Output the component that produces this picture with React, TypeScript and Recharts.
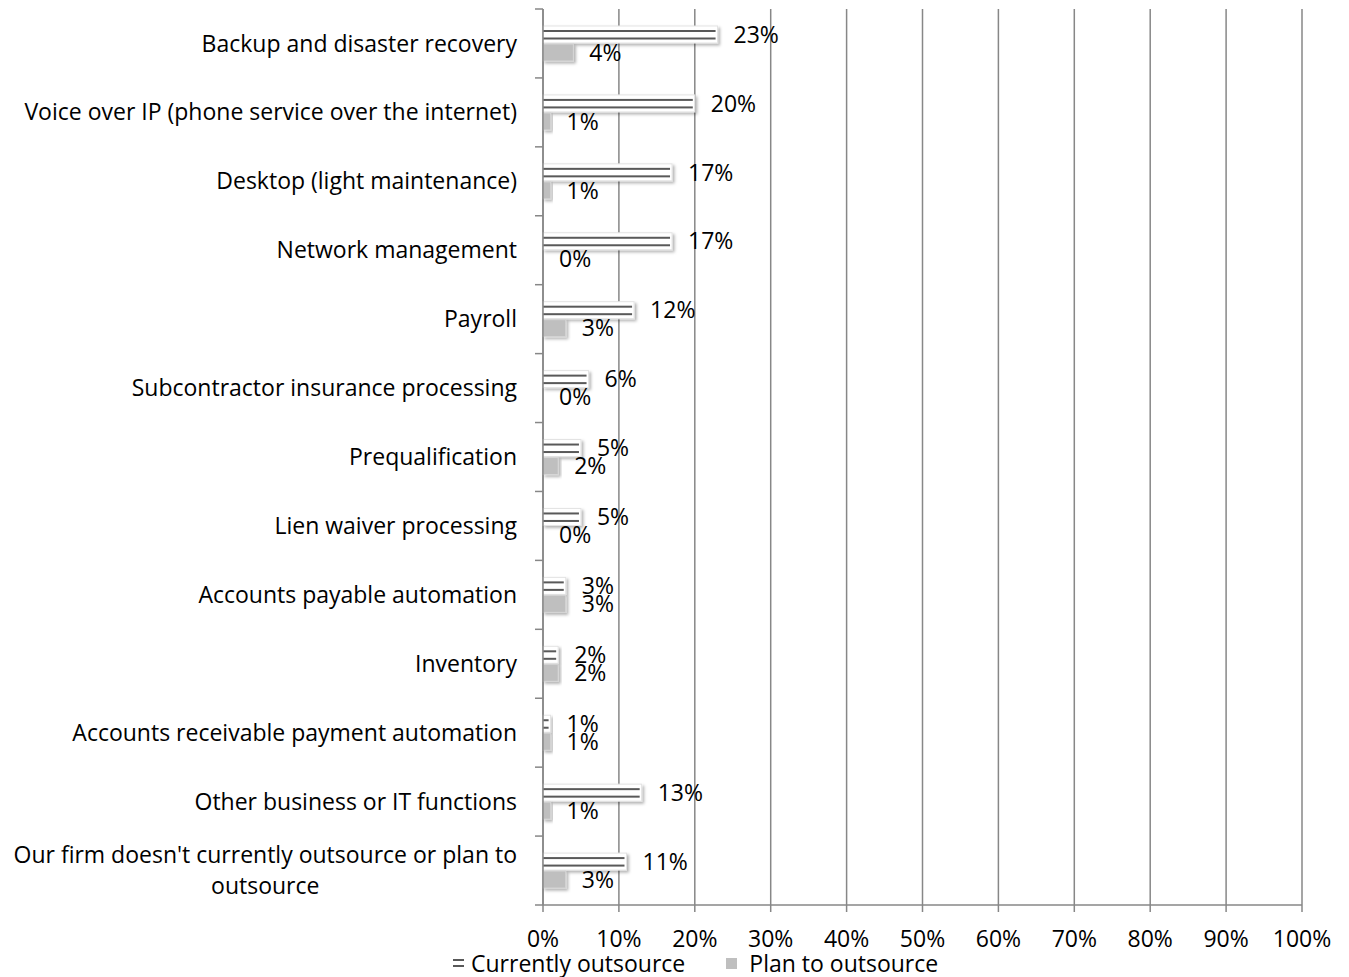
import { BarChart, Bar, XAxis, YAxis, CartesianGrid, Legend, LabelList } from 'recharts';

const categories = [
  'Backup and disaster recovery',
  'Voice over IP (phone service over the internet)',
  'Desktop (light maintenance)',
  'Network management',
  'Payroll',
  'Subcontractor insurance processing',
  'Prequalification',
  'Lien waiver processing',
  'Accounts payable automation',
  'Inventory',
  'Accounts receivable payment automation',
  'Other business or IT functions',
  "Our firm doesn't currently outsource or plan to outsource",
];
const currentlyOutsource = [23, 20, 17, 17, 12, 6, 5, 5, 3, 2, 1, 13, 11];
const planToOutsource = [4, 1, 1, 0, 3, 0, 2, 0, 3, 2, 1, 1, 3];
const xTicks = [0, 10, 20, 30, 40, 50, 60, 70, 80, 90, 100];

const data = categories.map((name, i) => ({
  name,
  current: currentlyOutsource[i],
  plan: planToOutsource[i],
}));

const FONT = '"Open Sans", "Liberation Sans", sans-serif';
const FS = 23;
const GRID = '#878787';
const PLAN = '#bfbfbf';
const STRIPE = '#595959';

let ctx: CanvasRenderingContext2D | null = null;
const measure = (s: string) => {
  if (!ctx) ctx = document.createElement('canvas').getContext('2d');
  if (!ctx) return s.length * FS * 0.5;
  ctx.font = `${FS}px ${FONT}`;
  return ctx.measureText(s).width;
};

const wrap = (text: string, maxW: number) => {
  const words = text.split(' ');
  const lines: string[] = [];
  let cur = '';
  words.forEach((w) => {
    const t = cur ? cur + ' ' + w : w;
    if (cur && measure(t) > maxW) {
      lines.push(cur);
      cur = w;
    } else cur = t;
  });
  if (cur) lines.push(cur);
  return lines;
};

const CategoryTick = (props: any) => {
  const { x, y, payload, index, visibleTicksCount } = props;
  const half = payload && payload.offset ? payload.offset : 34.46;
  const axisRight = x + 26;
  const lines = wrap(payload.value, 508);
  const multi = lines.length > 1;
  const maxW = Math.max(...lines.map(measure));
  const lh = 31;
  return (
    <g>
      <line x1={axisRight - 8} x2={axisRight} y1={y - half} y2={y - half} stroke={GRID} strokeWidth={1.5} />
      {index === visibleTicksCount - 1 && (
        <line x1={axisRight - 8} x2={axisRight} y1={y + half} y2={y + half} stroke={GRID} strokeWidth={1.5} />
      )}
      <text
        x={multi ? x - maxW / 2 : x}
        y={y - ((lines.length - 1) * lh) / 2}
        textAnchor={multi ? 'middle' : 'end'}
        fontFamily={FONT}
        fontSize={FS}
        fill="#000"
      >
        {lines.map((l, i) => (
          <tspan key={i} x={multi ? x - maxW / 2 : x} dy={i === 0 ? '0.35em' : lh}>
            {l}
          </tspan>
        ))}
      </text>
    </g>
  );
};

const StripedBar = (props: any) => {
  const { x, y, width, height } = props;
  if (!width || width <= 0) return null;
  return (
    <g>
      <rect x={x} y={y} width={width} height={height} fill="#fff" stroke="#e3e3e3" strokeWidth={1} filter="url(#barShadow)" />
      <rect x={x} y={y + 4} width={Math.max(width - 2, 0)} height={2} fill={STRIPE} />
      <rect x={x} y={y + 11.5} width={Math.max(width - 2, 0)} height={2} fill={STRIPE} />
    </g>
  );
};

const PlanBar = (props: any) => {
  const { x, y, width, height } = props;
  if (!width || width <= 0) return null;
  return <rect x={x} y={y} width={width} height={height} fill={PLAN} stroke="#d6d6d6" strokeWidth={1} filter="url(#barShadow)" />;
};

const LegendContent = () => (
  <div
    style={{
      display: 'flex',
      alignItems: 'center',
      height: 24,
      lineHeight: '24px',
      fontFamily: FONT,
      fontSize: FS,
      color: '#000',
      whiteSpace: 'nowrap',
    }}
  >
    <svg width={12} height={12} style={{ marginRight: 6 }}>
      <rect x={0} y={2} width={11} height={2} fill={STRIPE} />
      <rect x={0} y={8} width={11} height={2} fill={STRIPE} />
    </svg>
    <span>Currently outsource</span>
    <svg width={11} height={11} style={{ marginLeft: 41, marginRight: 12 }}>
      <rect x={0} y={0} width={11} height={11} fill={PLAN} />
    </svg>
    <span>Plan to outsource</span>
  </div>
);

const App = () => (
  <div style={{ width: 1333, height: 969, background: '#fff' }}>
    <BarChart
      width={1333}
      height={969}
      data={data}
      layout="vertical"
      margin={{ top: 1, right: 39, bottom: 0, left: 0 }}
      barSize={17}
      barGap={1}
    >
      <defs>
        <filter id="barShadow" x="-10%" y="-30%" width="130%" height="180%">
          <feDropShadow dx={2} dy={2} stdDeviation={1.5} floodColor="#000" floodOpacity={0.3} />
        </filter>
      </defs>
      <CartesianGrid horizontal={false} stroke={GRID} strokeWidth={1.5} />
      <XAxis
        type="number"
        domain={[0, 100]}
        ticks={xTicks}
        tickFormatter={(v: number) => `${v}%`}
        axisLine={{ stroke: GRID, strokeWidth: 1.5 }}
        tickLine={{ stroke: GRID, strokeWidth: 1.5 }}
        tickSize={7}
        tickMargin={19}
        height={48}
        tick={{ fill: '#000', fontFamily: FONT, fontSize: FS }}
        interval={0}
      />
      <YAxis
        type="category"
        dataKey="name"
        width={535}
        axisLine={{ stroke: GRID, strokeWidth: 1.5 }}
        tickLine={false}
        tickSize={8}
        tickMargin={18}
        interval={0}
        tick={<CategoryTick />}
      />
      <Legend
        verticalAlign="bottom"
        content={<LegendContent />}
        wrapperStyle={{ left: 445, bottom: 2, width: 'auto', height: 24 }}
      />
      <Bar dataKey="current" name="Currently outsource" shape={<StripedBar />} isAnimationActive={false}>
        <LabelList dataKey="current" position="right" offset={16} formatter={(v: any) => `${v}%`} fill="#000" fontFamily={FONT} fontSize={FS} />
      </Bar>
      <Bar dataKey="plan" name="Plan to outsource" shape={<PlanBar />} isAnimationActive={false}>
        <LabelList dataKey="plan" position="right" offset={16} formatter={(v: any) => `${v}%`} fill="#000" fontFamily={FONT} fontSize={FS} />
      </Bar>
    </BarChart>
  </div>
);

export default App;
